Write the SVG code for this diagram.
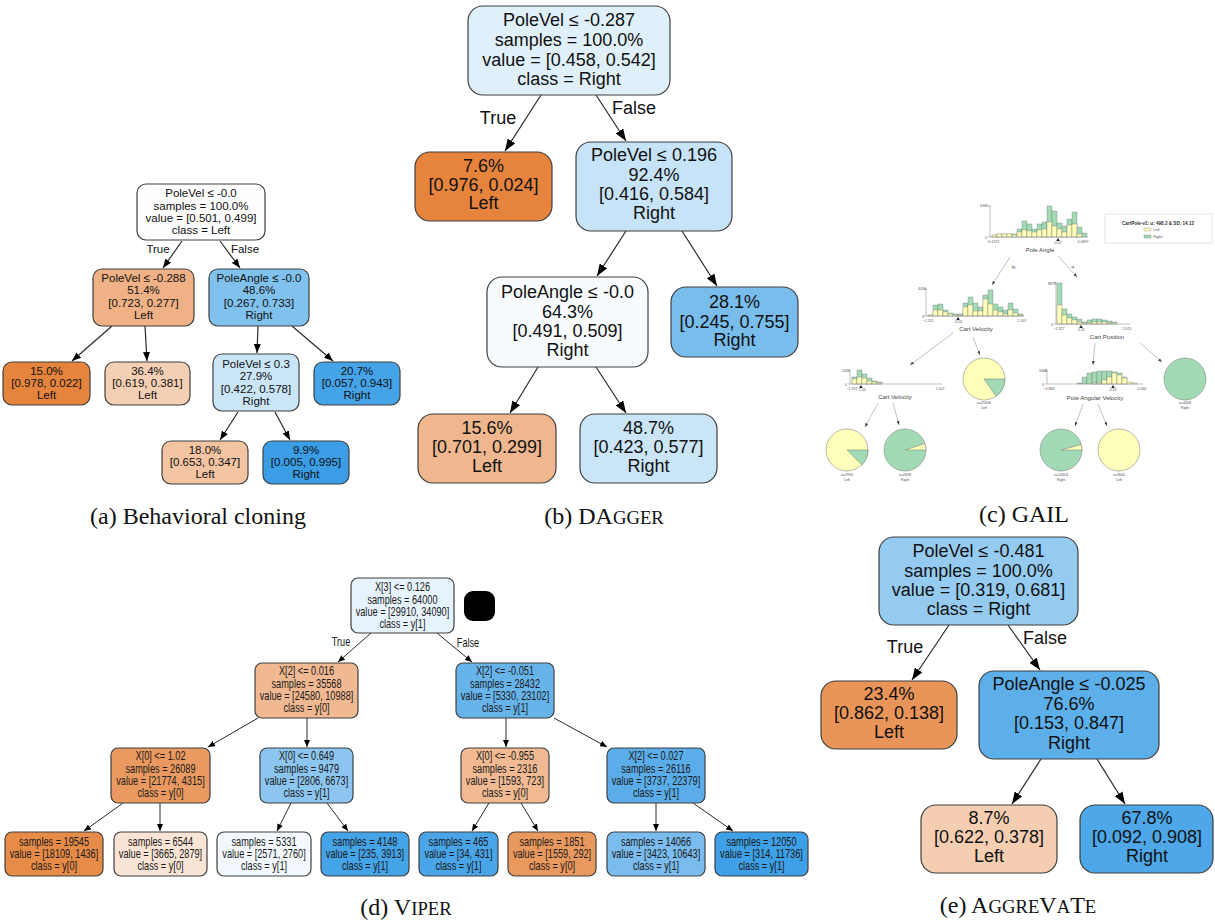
<svg xmlns="http://www.w3.org/2000/svg" width="1215" height="923" viewBox="0 0 1215 923">
<style>
.n{stroke:#3f3f3f;stroke-width:1.2}
.e{stroke:#2a2a2a;stroke-width:1.2;fill:none}
.es{stroke:#2a2a2a;stroke-width:1;fill:none}
.ta{font-family:"Liberation Sans",Arial,sans-serif;font-size:11.5px;text-anchor:middle;dominant-baseline:central;fill:#111}
.tb{font-family:"Liberation Sans",Arial,sans-serif;font-size:18px;text-anchor:middle;dominant-baseline:central;fill:#111}
.td{font-family:"Liberation Sans",Arial,sans-serif;font-size:12px;text-anchor:middle;dominant-baseline:central;fill:#1a1a1a}
.cap{font-family:"Liberation Serif","Times New Roman",serif;font-size:24px;text-anchor:middle;fill:#111}
.sc{font-size:18.7px}
.gy{fill:#fefebb;stroke:#666;stroke-width:0.3}
.gg{fill:#a1dab4;stroke:#666;stroke-width:0.3}
.ax{stroke:#999;stroke-width:0.6;fill:none}
.gt{font-family:"Liberation Sans",Arial,sans-serif;font-size:3.6px;fill:#555;text-anchor:middle}
.gl{font-family:"Liberation Sans",Arial,sans-serif;font-size:6px;fill:#444;text-anchor:middle}
.ga{stroke:#999;stroke-width:0.6;fill:none}
.pie{stroke:#777;stroke-width:0.5}
</style>
<defs>
<marker id="mb" viewBox="0 0 10 10" refX="10" refY="5" markerWidth="12" markerHeight="9" markerUnits="userSpaceOnUse" orient="auto" preserveAspectRatio="none"><path d="M0,0 L10,5 L0,10 z" fill="#000"/></marker>
<marker id="ma" viewBox="0 0 10 10" refX="10" refY="5" markerWidth="9" markerHeight="7" markerUnits="userSpaceOnUse" orient="auto" preserveAspectRatio="none"><path d="M0,0 L10,5 L0,10 z" fill="#000"/></marker>
<marker id="md" viewBox="0 0 10 10" refX="10" refY="5" markerWidth="7" markerHeight="6" markerUnits="userSpaceOnUse" orient="auto" preserveAspectRatio="none"><path d="M0,0 L10,5 L0,10 z" fill="#000"/></marker>
<marker id="mg" viewBox="0 0 10 10" refX="10" refY="5" markerWidth="4" markerHeight="3" markerUnits="userSpaceOnUse" orient="auto" preserveAspectRatio="none"><path d="M0,0 L10,5 L0,10 z" fill="#444"/></marker>
</defs>
<rect width="1215" height="923" fill="#fff"/>

<!-- (a) Behavioral cloning -->
<g id="a-edges">
<line class="e" x1="182" y1="241" x2="163" y2="268" marker-end="url(#ma)"/>
<line class="e" x1="220" y1="241" x2="240" y2="268" marker-end="url(#ma)"/>
<line class="e" x1="112" y1="326" x2="72" y2="361" marker-end="url(#ma)"/>
<line class="e" x1="145" y1="326" x2="147" y2="361" marker-end="url(#ma)"/>
<line class="e" x1="258" y1="326" x2="257" y2="353" marker-end="url(#ma)"/>
<line class="e" x1="292" y1="326" x2="333" y2="361" marker-end="url(#ma)"/>
<line class="e" x1="238" y1="412" x2="220" y2="440" marker-end="url(#ma)"/>
<line class="e" x1="275" y1="412" x2="290" y2="440" marker-end="url(#ma)"/>
<text class="ta" x="158" y="249">True</text>
<text class="ta" x="245" y="249">False</text>
</g>
<g id="a-root"><rect class="n" x="137" y="184" width="128" height="56" rx="9" fill="#fefefe"/>
<text class="ta" x="201" y="193">PoleVel ≤ -0.0</text><text class="ta" x="201" y="205.5">samples = 100.0%</text><text class="ta" x="201" y="218">value = [0.501, 0.499]</text><text class="ta" x="201" y="230">class = Left</text></g>
<g id="a-n1"><rect class="n" x="93" y="269" width="101" height="57" rx="9" fill="#efb185"/>
<text class="ta" x="143.5" y="278">PoleVel ≤ -0.288</text><text class="ta" x="143.5" y="290">51.4%</text><text class="ta" x="143.5" y="302.5">[0.723, 0.277]</text><text class="ta" x="143.5" y="315">Left</text></g>
<g id="a-n2"><rect class="n" x="209" y="269" width="100" height="57" rx="9" fill="#81c1ee"/>
<text class="ta" x="259" y="278">PoleAngle ≤ -0.0</text><text class="ta" x="259" y="290">48.6%</text><text class="ta" x="259" y="302.5">[0.267, 0.733]</text><text class="ta" x="259" y="315">Right</text></g>
<g id="a-n3"><rect class="n" x="3" y="362" width="87" height="43" rx="9" fill="#e6843d"/>
<text class="ta" x="46.5" y="370.5">15.0%</text><text class="ta" x="46.5" y="382.5">[0.978, 0.022]</text><text class="ta" x="46.5" y="394.5">Left</text></g>
<g id="a-n4"><rect class="n" x="105" y="362" width="85" height="43" rx="9" fill="#f5cfb3"/>
<text class="ta" x="147.5" y="370.5">36.4%</text><text class="ta" x="147.5" y="382.5">[0.619, 0.381]</text><text class="ta" x="147.5" y="394.5">Left</text></g>
<g id="a-n5"><rect class="n" x="213" y="354" width="86" height="57" rx="9" fill="#cae5f8"/>
<text class="ta" x="256" y="364">PoleVel ≤ 0.3</text><text class="ta" x="256" y="376">27.9%</text><text class="ta" x="256" y="388.5">[0.422, 0.578]</text><text class="ta" x="256" y="400.5">Right</text></g>
<g id="a-n6"><rect class="n" x="314" y="362" width="86" height="43" rx="9" fill="#45a3e7"/>
<text class="ta" x="357" y="370.5">20.7%</text><text class="ta" x="357" y="382.5">[0.057, 0.943]</text><text class="ta" x="357" y="394.5">Right</text></g>
<g id="a-n7"><rect class="n" x="162" y="441" width="86" height="43" rx="9" fill="#f3c4a2"/>
<text class="ta" x="205" y="450">18.0%</text><text class="ta" x="205" y="462">[0.653, 0.347]</text><text class="ta" x="205" y="474">Left</text></g>
<g id="a-n8"><rect class="n" x="263" y="441" width="86" height="43" rx="9" fill="#3a9de5"/>
<text class="ta" x="306" y="450">9.9%</text><text class="ta" x="306" y="462">[0.005, 0.995]</text><text class="ta" x="306" y="474">Right</text></g>

<!-- (b) DAgger -->
<g id="b-edges">
<line class="e" x1="541" y1="95" x2="505" y2="151" marker-end="url(#mb)"/>
<line class="e" x1="596" y1="95" x2="626" y2="141" marker-end="url(#mb)"/>
<line class="e" x1="626" y1="231" x2="597" y2="276" marker-end="url(#mb)"/>
<line class="e" x1="682" y1="231" x2="717" y2="286" marker-end="url(#mb)"/>
<line class="e" x1="538" y1="367" x2="510" y2="413" marker-end="url(#mb)"/>
<line class="e" x1="596" y1="367" x2="626" y2="413" marker-end="url(#mb)"/>
<text class="tb" x="498" y="118">True</text>
<text class="tb" x="634" y="108">False</text>
</g>
<g id="b-root"><rect class="n" x="468" y="6" width="202" height="89" rx="15" fill="#e0f0fb"/>
<text class="tb" x="569" y="20">PoleVel ≤ -0.287</text><text class="tb" x="569" y="40">samples = 100.0%</text><text class="tb" x="569" y="60">value = [0.458, 0.542]</text><text class="tb" x="569" y="79">class = Right</text></g>
<g id="b-n1"><rect class="n" x="415" y="152" width="137" height="69" rx="15" fill="#e6843e"/>
<text class="tb" x="483.5" y="166">7.6%</text><text class="tb" x="483.5" y="185">[0.976, 0.024]</text><text class="tb" x="483.5" y="203">Left</text></g>
<g id="b-n2"><rect class="n" x="576" y="142" width="156" height="89" rx="15" fill="#c6e3f8"/>
<text class="tb" x="654" y="155">PoleVel ≤ 0.196</text><text class="tb" x="654" y="175">92.4%</text><text class="tb" x="654" y="194">[0.416, 0.584]</text><text class="tb" x="654" y="213">Right</text></g>
<g id="b-n3"><rect class="n" x="487" y="277" width="161" height="90" rx="15" fill="#f8fbfe"/>
<text class="tb" x="567.5" y="292">PoleAngle ≤ -0.0</text><text class="tb" x="567.5" y="312">64.3%</text><text class="tb" x="567.5" y="331">[0.491, 0.509]</text><text class="tb" x="567.5" y="350">Right</text></g>
<g id="b-n4"><rect class="n" x="671" y="287" width="127" height="70" rx="15" fill="#79bded"/>
<text class="tb" x="734.5" y="302">28.1%</text><text class="tb" x="734.5" y="322">[0.245, 0.755]</text><text class="tb" x="734.5" y="340">Right</text></g>
<g id="b-n5"><rect class="n" x="418" y="414" width="138" height="69" rx="15" fill="#f0b78e"/>
<text class="tb" x="487" y="428">15.6%</text><text class="tb" x="487" y="447">[0.701, 0.299]</text><text class="tb" x="487" y="466">Left</text></g>
<g id="b-n6"><rect class="n" x="580" y="414" width="137" height="69" rx="15" fill="#cae5f8"/>
<text class="tb" x="648.5" y="428">48.7%</text><text class="tb" x="648.5" y="447">[0.423, 0.577]</text><text class="tb" x="648.5" y="466">Right</text></g>

<!-- (c) GAIL -->
<g id="c-gail">
<g id="c-h1">
<rect class="gg" x="992" y="235" width="5" height="2"/><rect class="gy" x="992" y="235" width="5" height="2"/>
<rect class="gg" x="997" y="234" width="5" height="3"/><rect class="gy" x="997" y="234" width="5" height="3"/>
<rect class="gg" x="1002" y="234" width="5" height="3"/><rect class="gy" x="1002" y="234" width="5" height="3"/>
<rect class="gg" x="1007" y="234" width="5" height="3"/><rect class="gy" x="1007" y="234" width="5" height="3"/>
<rect class="gg" x="1012" y="234" width="5" height="3"/><rect class="gy" x="1012" y="235" width="5" height="2"/>
<rect class="gg" x="1017" y="229" width="5" height="8"/><rect class="gy" x="1017" y="232" width="5" height="5"/>
<rect class="gg" x="1022" y="221" width="5" height="16"/><rect class="gy" x="1022" y="230" width="5" height="7"/>
<rect class="gg" x="1027" y="224" width="5" height="13"/><rect class="gy" x="1027" y="231" width="5" height="6"/>
<rect class="gg" x="1032" y="229" width="5" height="8"/><rect class="gy" x="1032" y="232" width="5" height="5"/>
<rect class="gg" x="1037" y="224" width="5" height="13"/><rect class="gy" x="1037" y="230" width="5" height="7"/>
<rect class="gg" x="1042" y="222" width="5" height="15"/><rect class="gy" x="1042" y="229" width="5" height="8"/>
<rect class="gg" x="1047" y="206" width="5" height="31"/><rect class="gy" x="1047" y="222" width="5" height="15"/>
<rect class="gg" x="1052" y="211" width="5" height="26"/><rect class="gy" x="1052" y="226" width="5" height="11"/>
<rect class="gg" x="1057" y="223" width="5" height="14"/><rect class="gy" x="1057" y="229" width="5" height="8"/>
<rect class="gg" x="1062" y="226" width="5" height="11"/><rect class="gy" x="1062" y="232" width="5" height="5"/>
<rect class="gg" x="1067" y="219" width="5" height="18"/><rect class="gy" x="1067" y="225" width="5" height="12"/>
<rect class="gg" x="1072" y="212" width="5" height="25"/><rect class="gy" x="1072" y="224" width="5" height="13"/>
<rect class="gg" x="1077" y="227" width="5" height="10"/><rect class="gy" x="1077" y="234" width="5" height="3"/>
<rect class="gg" x="1082" y="233" width="5" height="4"/>
<path class="ax" d="M990,205 V237 H1088 M988,206 H990 M988,237 H990"/>
<path d="M1058,238 l-1.8,3 h3.6z" fill="#222"/>
<text class="gt" x="984" y="207" text-anchor="end">6366</text><text class="gt" x="986" y="238.5" text-anchor="end">0</text>
<text class="gt" x="993" y="243">−0.1257</text><text class="gt" x="1058" y="244">0.02</text><text class="gt" x="1083" y="243">0.0897</text>
<text class="gl" x="1040" y="252">Pole Angle</text>
</g>
<g id="c-legend">
<rect x="1105" y="214" width="107" height="29" fill="#fff" stroke="#ccc" stroke-width="0.5"/>
<text x="1158" y="225" font-family="Liberation Sans, Arial, sans-serif" font-size="4.6" font-weight="bold" fill="#333" text-anchor="middle">CartPole-v1: u: 498.2 &amp; SD: 14.12</text>
<rect x="1144" y="228" width="7" height="3" class="gy"/><text x="1153" y="231" font-family="Liberation Sans, Arial, sans-serif" font-size="4" fill="#555">Left</text>
<rect x="1144" y="235" width="7" height="3" class="gg"/><text x="1153" y="238" font-family="Liberation Sans, Arial, sans-serif" font-size="4" fill="#555">Right</text>
</g>
<g id="c-arrows">
<line class="ga" x1="1010" y1="257" x2="992" y2="285" marker-end="url(#mg)"/>
<line class="ga" x1="1058" y1="256" x2="1077" y2="277" marker-end="url(#mg)"/>
<line class="ga" x1="953" y1="333" x2="910" y2="365" marker-end="url(#mg)"/>
<line class="ga" x1="973" y1="337" x2="980" y2="355" marker-end="url(#mg)"/>
<line class="ga" x1="1095" y1="343" x2="1093" y2="365" marker-end="url(#mg)"/>
<line class="ga" x1="1140" y1="343" x2="1162" y2="362" marker-end="url(#mg)"/>
<line class="ga" x1="878" y1="403" x2="865" y2="427" marker-end="url(#mg)"/>
<line class="ga" x1="893" y1="403" x2="899" y2="425" marker-end="url(#mg)"/>
<line class="ga" x1="1083" y1="404" x2="1075" y2="426" marker-end="url(#mg)"/>
<line class="ga" x1="1098" y1="404" x2="1107" y2="426" marker-end="url(#mg)"/>
<text class="gl" x="1013" y="269" transform="rotate(-57 1013 267)">≤</text>
<text class="gl" x="1073" y="269" transform="rotate(48 1073 267)">&gt;</text>
</g>
<g id="c-h2">
<rect class="gg" x="928" y="315" width="5" height="1"/><rect class="gy" x="928" y="315" width="5" height="1"/>
<rect class="gg" x="933" y="305" width="5" height="11"/><rect class="gy" x="933" y="310" width="5" height="6"/>
<rect class="gg" x="938" y="304" width="5" height="12"/><rect class="gy" x="938" y="310" width="5" height="6"/>
<rect class="gg" x="943" y="310" width="5" height="6"/><rect class="gy" x="943" y="312" width="5" height="4"/>
<rect class="gg" x="948" y="313" width="5" height="3"/><rect class="gy" x="948" y="314" width="5" height="2"/>
<rect class="gg" x="953" y="314" width="5" height="2"/><rect class="gy" x="953" y="315" width="5" height="1"/>
<rect class="gg" x="958" y="314" width="5" height="2"/><rect class="gy" x="958" y="315" width="5" height="1"/>
<rect class="gg" x="963" y="303" width="5" height="13"/><rect class="gy" x="963" y="307" width="5" height="9"/>
<rect class="gg" x="968" y="297" width="5" height="19"/><rect class="gy" x="968" y="305" width="5" height="11"/>
<rect class="gg" x="973" y="303" width="5" height="13"/><rect class="gy" x="973" y="311" width="5" height="5"/>
<rect class="gg" x="978" y="307" width="5" height="9"/><rect class="gy" x="978" y="311" width="5" height="5"/>
<rect class="gg" x="983" y="295" width="5" height="21"/><rect class="gy" x="983" y="299" width="5" height="17"/>
<rect class="gg" x="988" y="290" width="5" height="26"/><rect class="gy" x="988" y="304" width="5" height="12"/>
<rect class="gg" x="993" y="304" width="5" height="12"/><rect class="gy" x="993" y="310" width="5" height="6"/>
<rect class="gg" x="998" y="307" width="5" height="9"/><rect class="gy" x="998" y="312" width="5" height="4"/>
<rect class="gg" x="1003" y="310" width="5" height="6"/><rect class="gy" x="1003" y="314" width="5" height="2"/>
<rect class="gg" x="1008" y="303" width="5" height="13"/><rect class="gy" x="1008" y="310" width="5" height="6"/>
<rect class="gg" x="1013" y="309" width="5" height="7"/><rect class="gy" x="1013" y="313" width="5" height="3"/>
<rect class="gg" x="1018" y="314" width="5" height="2"/><rect class="gy" x="1018" y="315" width="5" height="1"/>
<path class="ax" d="M926,288 V316 H1024 M924,289 H926 M924,316 H926"/>
<path d="M958,317 l-1.8,3 h3.6z" fill="#222"/>
<text class="gt" x="922" y="290" text-anchor="end">4434</text><text class="gt" x="923" y="317.5" text-anchor="end">0</text>
<text class="gt" x="928" y="322">−1.511</text><text class="gt" x="958" y="323">-0.53</text><text class="gt" x="1022" y="322">1.507</text>
<text class="gl" x="976" y="331">Cart Velocity</text>
</g>
<g id="c-h3">
<rect class="gg" x="1057" y="283" width="5" height="41"/><rect class="gy" x="1057" y="305" width="5" height="19"/>
<rect class="gg" x="1062" y="309" width="5" height="15"/><rect class="gy" x="1062" y="315" width="5" height="9"/>
<rect class="gg" x="1067" y="314" width="5" height="10"/><rect class="gy" x="1067" y="318" width="5" height="6"/>
<rect class="gg" x="1072" y="317" width="5" height="7"/><rect class="gy" x="1072" y="320" width="5" height="4"/>
<rect class="gg" x="1077" y="319" width="5" height="5"/><rect class="gy" x="1077" y="322" width="5" height="2"/>
<rect class="gg" x="1082" y="322" width="5" height="2"/><rect class="gy" x="1082" y="323" width="5" height="1"/>
<rect class="gg" x="1087" y="320" width="5" height="4"/><rect class="gy" x="1087" y="323" width="5" height="1"/>
<rect class="gg" x="1092" y="319" width="5" height="5"/><rect class="gy" x="1092" y="322" width="5" height="2"/>
<rect class="gg" x="1097" y="319" width="5" height="5"/><rect class="gy" x="1097" y="322" width="5" height="2"/>
<rect class="gg" x="1102" y="320" width="5" height="4"/><rect class="gy" x="1102" y="322" width="5" height="2"/>
<rect class="gg" x="1107" y="321" width="5" height="3"/><rect class="gy" x="1107" y="323" width="5" height="1"/>
<rect class="gg" x="1112" y="322" width="5" height="2"/><rect class="gy" x="1112" y="323" width="5" height="1"/>
<path class="ax" d="M1056,282 V324 H1130 M1054,283 H1056 M1054,324 H1056"/>
<path d="M1081,325 l-1.8,3 h3.6z" fill="#222"/>
<text class="gt" x="1052" y="284.5" text-anchor="end">8879</text><text class="gt" x="1052" y="325.5" text-anchor="end">0</text>
<text class="gt" x="1059" y="330">−2.327</text><text class="gt" x="1081" y="331">-1.31</text><text class="gt" x="1127" y="330">2.015</text>
<text class="gl" x="1107" y="339">Cart Position</text>
</g>
<g id="c-h4">
<rect class="gg" x="852" y="377" width="5" height="7"/><rect class="gy" x="852" y="379" width="5" height="5"/>
<rect class="gg" x="857" y="370" width="5" height="14"/><rect class="gy" x="857" y="377" width="5" height="7"/>
<rect class="gg" x="862" y="374" width="5" height="10"/><rect class="gy" x="862" y="378" width="5" height="6"/>
<rect class="gg" x="867" y="378" width="5" height="6"/><rect class="gy" x="867" y="381" width="5" height="3"/>
<rect class="gg" x="872" y="381" width="5" height="3"/><rect class="gy" x="872" y="382" width="5" height="2"/>
<rect class="gg" x="877" y="382" width="5" height="2"/><rect class="gy" x="877" y="383" width="5" height="1"/>
<path class="ax" d="M850,370 V384 H942 M848,371 H850 M848,384 H850"/>
<path d="M861,385 l-1.8,3 h3.6z" fill="#222"/>
<text class="gt" x="846" y="372" text-anchor="end">2039</text><text class="gt" x="846" y="385.5" text-anchor="end">0</text>
<text class="gt" x="852" y="390">−1.551</text><text class="gt" x="862" y="391">-1.05</text><text class="gt" x="940" y="390">1.507</text>
<text class="gl" x="895" y="399">Cart Velocity</text>
</g>
<g id="c-h5">
<rect class="gg" x="1077" y="383" width="5" height="1"/>
<rect class="gg" x="1082" y="377" width="5" height="7"/>
<rect class="gg" x="1087" y="373" width="5" height="11"/>
<rect class="gg" x="1092" y="372" width="5" height="12"/><rect class="gy" x="1092" y="383" width="5" height="1"/>
<rect class="gg" x="1097" y="371" width="5" height="13"/><rect class="gy" x="1097" y="383" width="5" height="1"/>
<rect class="gg" x="1102" y="371" width="5" height="13"/><rect class="gy" x="1102" y="380" width="5" height="4"/>
<rect class="gg" x="1107" y="371" width="5" height="13"/><rect class="gy" x="1107" y="377" width="5" height="7"/>
<rect class="gg" x="1112" y="372" width="5" height="12"/><rect class="gy" x="1112" y="373" width="5" height="11"/>
<rect class="gg" x="1117" y="373" width="5" height="11"/><rect class="gy" x="1117" y="375" width="5" height="9"/>
<rect class="gg" x="1122" y="377" width="5" height="7"/><rect class="gy" x="1122" y="378" width="5" height="6"/>
<rect class="gy" x="1127" y="382" width="5" height="2"/>
<rect class="gy" x="1132" y="383" width="5" height="1"/>
<path class="ax" d="M1047,370 V384 H1143 M1045,371 H1047 M1045,384 H1047"/>
<path d="M1113,385 l-1.8,3 h3.6z" fill="#222"/>
<text class="gt" x="1043" y="372" text-anchor="end">1688</text><text class="gt" x="1043" y="385.5" text-anchor="end">0</text>
<text class="gt" x="1049" y="390">−0.883</text><text class="gt" x="1113" y="391">0.13</text><text class="gt" x="1142" y="390">0.580</text>
<text class="gl" x="1095" y="400">Pole Angular Velocity</text>
</g>
<g id="c-pies">
<circle class="pie" cx="984" cy="379" r="21" fill="#fefebb"/>
<path class="pie" d="M984,379 L1005,379 A21,21 0 0 1 996,396.2 Z" fill="#a1dab4"/>
<text class="gt" x="984" y="404">n=25636</text><text class="gt" x="984" y="409">Left</text>
<circle class="pie" cx="1185" cy="379" r="21" fill="#a1dab4"/>
<text class="gt" x="1185" y="404">n=4408</text><text class="gt" x="1185" y="409">Right</text>
<circle class="pie" cx="847" cy="450" r="21" fill="#fefebb"/>
<path class="pie" d="M847,450 L868,450 A21,21 0 0 1 861.8,464.8 Z" fill="#a1dab4"/>
<text class="gt" x="847" y="476">n=2994</text><text class="gt" x="847" y="481">Left</text>
<circle class="pie" cx="905" cy="450" r="21" fill="#a1dab4"/>
<path class="pie" d="M905,450 L926,450 A21,21 0 0 0 925,443.5 Z" fill="#fefebb"/>
<text class="gt" x="905" y="476">n=2698</text><text class="gt" x="905" y="481">Right</text>
<circle class="pie" cx="1061" cy="450" r="21" fill="#a1dab4"/>
<path class="pie" d="M1061,450 L1082,450 A21,21 0 0 0 1081.3,444.6 Z" fill="#fefebb"/>
<text class="gt" x="1061" y="476">n=10424</text><text class="gt" x="1061" y="481">Right</text>
<circle class="pie" cx="1119" cy="450" r="21" fill="#fefebb"/>
<text class="gt" x="1119" y="476">n=3640</text><text class="gt" x="1119" y="481">Left</text>
</g>
</g>

<!-- (d) VIPER -->
<g id="d-edges">
<line class="es" x1="371" y1="633" x2="338" y2="662" marker-end="url(#md)"/>
<line class="es" x1="437" y1="633" x2="472" y2="662" marker-end="url(#md)"/>
<line class="es" x1="258" y1="718" x2="208" y2="747" marker-end="url(#md)"/>
<line class="es" x1="307" y1="718" x2="307" y2="747" marker-end="url(#md)"/>
<line class="es" x1="506" y1="718" x2="506" y2="747" marker-end="url(#md)"/>
<line class="es" x1="554" y1="718" x2="607" y2="747" marker-end="url(#md)"/>
<line class="es" x1="123" y1="803" x2="84" y2="831" marker-end="url(#md)"/>
<line class="es" x1="160" y1="803" x2="160" y2="831" marker-end="url(#md)"/>
<line class="es" x1="291" y1="803" x2="277" y2="831" marker-end="url(#md)"/>
<line class="es" x1="327" y1="803" x2="348" y2="831" marker-end="url(#md)"/>
<line class="es" x1="489" y1="803" x2="472" y2="831" marker-end="url(#md)"/>
<line class="es" x1="521" y1="803" x2="538" y2="831" marker-end="url(#md)"/>
<line class="es" x1="656" y1="803" x2="656" y2="831" marker-end="url(#md)"/>
<line class="es" x1="693" y1="803" x2="733" y2="831" marker-end="url(#md)"/>
<g transform="scale(0.765 1)"><text class="td" x="445.8" y="642">True</text><text class="td" x="611.8" y="643">False</text></g>
</g>
<g id="d-root"><rect class="n" x="351" y="578" width="103" height="55" rx="7" fill="#e7f3fc"/>
<g transform="scale(0.765 1)"><text class="td" x="526.1" y="587">X[3] &lt;= 0.126</text><text class="td" x="526.1" y="599.5">samples = 64000</text><text class="td" x="526.1" y="611.5">value = [29910, 34090]</text><text class="td" x="526.1" y="624">class = y[1]</text></g></g>
<g id="d-blot"><rect x="464" y="591" width="31" height="30" rx="9" fill="#000"/></g>
<g id="d-n1"><rect class="n" x="255" y="663" width="103" height="55" rx="7" fill="#f1b992"/>
<g transform="scale(0.765 1)"><text class="td" x="400.7" y="671">X[2] &lt;= 0.016</text><text class="td" x="400.7" y="683.5">samples = 35568</text><text class="td" x="400.7" y="696">value = [24580, 10988]</text><text class="td" x="400.7" y="708">class = y[0]</text></g></g>
<g id="d-n2"><rect class="n" x="456" y="663" width="98" height="55" rx="7" fill="#67b4eb"/>
<g transform="scale(0.765 1)"><text class="td" x="660.1" y="671">X[2] &lt;= -0.051</text><text class="td" x="660.1" y="683.5">samples = 28432</text><text class="td" x="660.1" y="696">value = [5330, 23102]</text><text class="td" x="660.1" y="708">class = y[1]</text></g></g>
<g id="d-n3"><rect class="n" x="111" y="748" width="99" height="55" rx="7" fill="#ea9a60"/>
<g transform="scale(0.765 1)"><text class="td" x="209.8" y="756">X[0] &lt;= 1.02</text><text class="td" x="209.8" y="768.5">samples = 26089</text><text class="td" x="209.8" y="781">value = [21774, 4315]</text><text class="td" x="209.8" y="793">class = y[0]</text></g></g>
<g id="d-n4"><rect class="n" x="260" y="748" width="93" height="55" rx="7" fill="#8cc6f0"/>
<g transform="scale(0.765 1)"><text class="td" x="400.7" y="756">X[0] &lt;= 0.649</text><text class="td" x="400.7" y="768.5">samples = 9479</text><text class="td" x="400.7" y="781">value = [2806, 6673]</text><text class="td" x="400.7" y="793">class = y[1]</text></g></g>
<g id="d-n5"><rect class="n" x="461" y="748" width="88" height="55" rx="7" fill="#f1ba93"/>
<g transform="scale(0.765 1)"><text class="td" x="660.1" y="756">X[0] &lt;= -0.955</text><text class="td" x="660.1" y="768.5">samples = 2316</text><text class="td" x="660.1" y="781">value = [1593, 723]</text><text class="td" x="660.1" y="793">class = y[0]</text></g></g>
<g id="d-n6"><rect class="n" x="607" y="748" width="98" height="55" rx="7" fill="#5aade9"/>
<g transform="scale(0.765 1)"><text class="td" x="857.5" y="756">X[2] &lt;= 0.027</text><text class="td" x="857.5" y="768.5">samples = 26116</text><text class="td" x="857.5" y="781">value = [3737, 22379]</text><text class="td" x="857.5" y="793">class = y[1]</text></g></g>
<g id="d-l1"><rect class="n" x="5" y="832" width="98" height="44" rx="7" fill="#e78b49"/>
<g transform="scale(0.765 1)"><text class="td" x="70.6" y="842">samples = 19545</text><text class="td" x="70.6" y="854">value = [18109, 1436]</text><text class="td" x="70.6" y="866">class = y[0]</text></g></g>
<g id="d-l2"><rect class="n" x="114" y="832" width="93" height="44" rx="7" fill="#f9e4d5"/>
<g transform="scale(0.765 1)"><text class="td" x="209.8" y="842">samples = 6544</text><text class="td" x="209.8" y="854">value = [3665, 2879]</text><text class="td" x="209.8" y="866">class = y[0]</text></g></g>
<g id="d-l3"><rect class="n" x="217" y="832" width="94" height="44" rx="7" fill="#f2f8fd"/>
<g transform="scale(0.765 1)"><text class="td" x="345.1" y="842">samples = 5331</text><text class="td" x="345.1" y="854">value = [2571, 2760]</text><text class="td" x="345.1" y="866">class = y[1]</text></g></g>
<g id="d-l4"><rect class="n" x="321" y="832" width="88" height="44" rx="7" fill="#45a3e7"/>
<g transform="scale(0.765 1)"><text class="td" x="477.1" y="842">samples = 4148</text><text class="td" x="477.1" y="854">value = [235, 3913]</text><text class="td" x="477.1" y="866">class = y[1]</text></g></g>
<g id="d-l5"><rect class="n" x="419" y="832" width="79" height="44" rx="7" fill="#49a5e7"/>
<g transform="scale(0.765 1)"><text class="td" x="599.3" y="842">samples = 465</text><text class="td" x="599.3" y="854">value = [34, 431]</text><text class="td" x="599.3" y="866">class = y[1]</text></g></g>
<g id="d-l6"><rect class="n" x="508" y="832" width="88" height="44" rx="7" fill="#ea995e"/>
<g transform="scale(0.765 1)"><text class="td" x="721.6" y="842">samples = 1851</text><text class="td" x="721.6" y="854">value = [1559, 292]</text><text class="td" x="721.6" y="866">class = y[0]</text></g></g>
<g id="d-l7"><rect class="n" x="607" y="832" width="98" height="44" rx="7" fill="#79bced"/>
<g transform="scale(0.765 1)"><text class="td" x="857.5" y="842">samples = 14066</text><text class="td" x="857.5" y="854">value = [3423, 10643]</text><text class="td" x="857.5" y="866">class = y[1]</text></g></g>
<g id="d-l8"><rect class="n" x="715" y="832" width="93" height="44" rx="7" fill="#3ea0e6"/>
<g transform="scale(0.765 1)"><text class="td" x="995.4" y="842">samples = 12050</text><text class="td" x="995.4" y="854">value = [314, 11736]</text><text class="td" x="995.4" y="866">class = y[1]</text></g></g>

<!-- (e) AggreVaTe -->
<g id="e-edges">
<line class="e" x1="949" y1="625" x2="912" y2="680" marker-end="url(#mb)"/>
<line class="e" x1="1008" y1="625" x2="1040" y2="670" marker-end="url(#mb)"/>
<line class="e" x1="1041" y1="759" x2="1012" y2="804" marker-end="url(#mb)"/>
<line class="e" x1="1097" y1="759" x2="1125" y2="804" marker-end="url(#mb)"/>
<text class="tb" x="905" y="647">True</text>
<text class="tb" x="1045" y="638">False</text>
</g>
<g id="e-root"><rect class="n" x="879" y="537" width="199" height="88" rx="15" fill="#96cbf1"/>
<text class="tb" x="978.5" y="551">PoleVel ≤ -0.481</text><text class="tb" x="978.5" y="571">samples = 100.0%</text><text class="tb" x="978.5" y="590">value = [0.319, 0.681]</text><text class="tb" x="978.5" y="609">class = Right</text></g>
<g id="e-n1"><rect class="n" x="821" y="681" width="136" height="68" rx="15" fill="#e99559"/>
<text class="tb" x="889" y="694">23.4%</text><text class="tb" x="889" y="713">[0.862, 0.138]</text><text class="tb" x="889" y="732">Left</text></g>
<g id="e-n2"><rect class="n" x="979" y="671" width="180" height="88" rx="15" fill="#5dafea"/>
<text class="tb" x="1069" y="684">PoleAngle ≤ -0.025</text><text class="tb" x="1069" y="704">76.6%</text><text class="tb" x="1069" y="723">[0.153, 0.847]</text><text class="tb" x="1069" y="743">Right</text></g>
<g id="e-n3"><rect class="n" x="921" y="805" width="136" height="68" rx="15" fill="#f5ceb1"/>
<text class="tb" x="989" y="818">8.7%</text><text class="tb" x="989" y="837">[0.622, 0.378]</text><text class="tb" x="989" y="856">Left</text></g>
<g id="e-n4"><rect class="n" x="1080" y="805" width="133" height="68" rx="15" fill="#4da7e8"/>
<text class="tb" x="1147" y="818">67.8%</text><text class="tb" x="1147" y="837">[0.092, 0.908]</text><text class="tb" x="1147" y="856">Right</text></g>

<!-- captions -->
<g id="captions">
<text class="cap" x="198" y="524">(a) Behavioral cloning</text>
<text class="cap" x="604" y="524">(b) DA<tspan class="sc">GGER</tspan></text>
<text class="cap" x="1024" y="522">(c) GAIL</text>
<text class="cap" x="406" y="915">(d) V<tspan class="sc">IPER</tspan></text>
<text class="cap" x="1018" y="913">(e) A<tspan class="sc">GGRE</tspan>V<tspan class="sc">A</tspan>T<tspan class="sc">E</tspan></text>
</g>
</svg>
